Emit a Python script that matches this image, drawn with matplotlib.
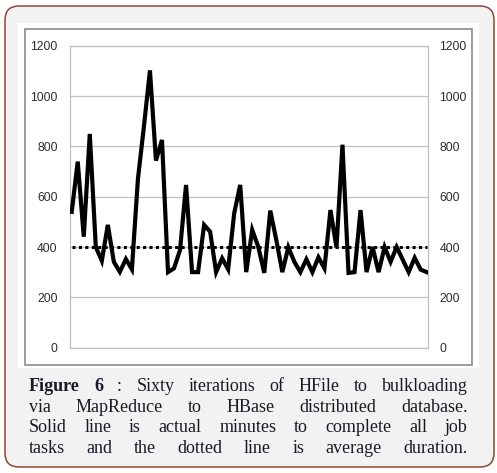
import matplotlib
matplotlib.use('Agg')
import matplotlib.pyplot as plt
from matplotlib.patches import FancyBboxPatch, Rectangle
import numpy as np

# Datos: minutos por iteracion (60 iteraciones) y promedio
iterations = np.arange(1, 61)
minutes = [540, 740, 441, 850, 400, 345, 488, 341, 301, 352,
           311, 670, 880, 1103, 744, 826, 300, 315, 388, 647,
           300, 300, 488, 461, 300, 355, 311, 534, 647, 300,
           468, 401, 297, 545, 428, 300, 399, 341, 300, 351,
           300, 359, 315, 547, 399, 807, 297, 300, 547, 300,
           400, 300, 400, 341, 400, 350, 300, 357, 310, 300]
avg_minutes = 400
y_ticks = [0, 200, 400, 600, 800, 1000, 1200]

caption_lines = [
    ["Figure", "6", ":", "Sixty", "iterations", "of", "HFile", "to", "bulkloading"],
    ["via", "MapReduce", "to", "HBase", "distributed", "database."],
    ["Solid", "line", "is", "actual", "minutes", "to", "complete", "all", "job"],
    ["tasks", "and", "the", "dotted", "line", "is", "average", "duration."],
]

W, H = 497, 473
fig = plt.figure(figsize=(W/100, H/100), dpi=100, facecolor='white')

# Fondo en pixeles ************************************************************
bg = fig.add_axes([0, 0, 1, 1], zorder=0)
bg.set_xlim(0, W)
bg.set_ylim(H, 0)
bg.axis('off')

bg.add_patch(FancyBboxPatch((5, 6), 489, 461, boxstyle='round,pad=0,rounding_size=14',
                            facecolor='#f2f2f2', edgecolor='#8e4636', lw=1.1))
bg.add_patch(Rectangle((18, 23), 461, 345, facecolor='white', edgecolor='none'))
bg.add_patch(Rectangle((24.5, 29), 447.5, 335.5, facecolor='white',
                       edgecolor='#8a8a8a', lw=1.2))

# Grafico *********************************************************************
ax = fig.add_axes([69.5/W, 1-347.5/H, (427.5-69.5)/W, (347.5-46)/H], zorder=2)
ax.plot(iterations, minutes, color='black', lw=3.0, solid_joinstyle='miter', zorder=3)
ax.plot([iterations[0], iterations[-1]], [avg_minutes, avg_minutes], color='black',
        lw=2.2, ls=(0, (1, 1.1)), zorder=2)

ax.set_xlim(0.63, 60.13)
ax.set_ylim(0, 1200)
ax.set_yticks(y_ticks)
ax.set_xticks([])
ax.yaxis.grid(True, color='#c0c0c0', lw=0.9)
ax.set_axisbelow(True)
for s in ax.spines.values():
    s.set_color('#bfbfbf')
    s.set_linewidth(0.9)
ax.tick_params(axis='y', length=0, pad=8.5, labelsize=8.8, labelcolor='#2e2e2e',
               labelleft=True, labelright=True)
for t in ax.yaxis.get_major_ticks():
    t.label1.set_family('Liberation Sans')
    t.label2.set_family('Liberation Sans')

# Epigrafe justificado ********************************************************
renderer = fig.canvas.get_renderer()
x0, x1 = 29, 467.5
baselines = [391, 411.5, 432, 452.5]
for k, (words, yb) in enumerate(zip(caption_lines, baselines)):
    texts = []
    for j, w in enumerate(words):
        bold = (k == 0 and j < 2)
        texts.append(bg.text(0, yb, w, family='Liberation Serif', fontsize=13,
                             fontweight='bold' if bold else 'normal',
                             color='#1a1a24', va='baseline', ha='left'))
    widths = [t.get_window_extent(renderer).width for t in texts]
    gap = (x1 - x0 - sum(widths)) / (len(words) - 1)
    x = x0
    for t, w in zip(texts, widths):
        t.set_x(x)
        x += w + gap

fig.savefig('out.png', dpi=100)
